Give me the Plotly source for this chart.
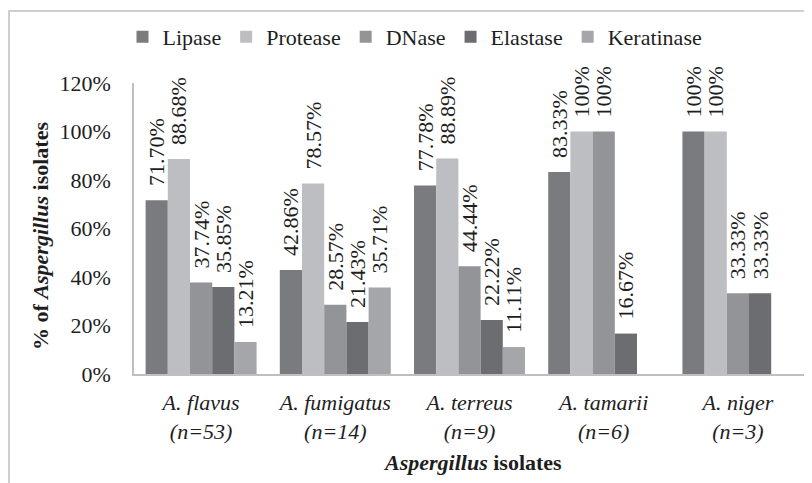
import plotly.graph_objects as go

categories = ["<i>A. flavus<br>(n=53)</i>", "<i>A. fumigatus<br>(n=14)</i>", "<i>A. terreus<br>(n=9)</i>",
              "<i>A. tamarii<br>(n=6)</i>", "<i>A. niger<br>(n=3)</i>"]
series_names = ["Lipase", "Protease", "DNase", "Elastase", "Keratinase"]
lipase = [0.7170, 0.4286, 0.7778, 0.8333, 1.0]
protease = [0.8868, 0.7857, 0.8889, 1.0, 1.0]
dnase = [0.3774, 0.2857, 0.4444, 1.0, 0.3333]
elastase = [0.3585, 0.2143, 0.2222, 0.1667, 0.3333]
keratinase = [0.1321, 0.3571, 0.1111, 0.0, 0.0]
y_ticks = [0, 0.2, 0.4, 0.6, 0.8, 1.0, 1.2]
y_ticklabels = ["0%", "20%", "40%", "60%", "80%", "100%", "120%"]

colors = ["#7a7b7f", "#bdbec2", "#939497", "#6c6d71", "#a5a6a9"]
values = [lipase, protease, dnase, elastase, keratinase]
FONT = "Liberation Serif, Tinos, Times New Roman, serif"
TXT = "#1e1e1e"
FS = 22


def fmt(v):
    if v == 0:
        return ""
    if abs(v - 1.0) < 1e-9:
        return "\u00a0\u00a0100%"
    return f"\u00a0\u00a0{v*100:.2f}%"


fig = go.Figure()
for name, vals, col in zip(series_names, values, colors):
    fig.add_trace(go.Bar(
        name=name, x=categories, y=vals, marker=dict(color=col, line=dict(width=0)),
        text=[fmt(v) for v in vals], textposition="outside", textangle=-90,
        textfont=dict(family=FONT, size=FS, color=TXT),
        constraintext="none", cliponaxis=False,
    ))

# page offset (body margin of the html page)
OFF = 8
W, H = 812 - OFF, 483 - OFF
plot_x0, plot_x1, plot_y0, plot_y1 = 134, 805, 83, 374  # page coordinates
L = plot_x0 - OFF
R = 812 - plot_x1
T = plot_y0 - OFF
B = 483 - plot_y1
pw = plot_x1 - plot_x0
ph = plot_y1 - plot_y0


def px(xp):
    return (xp - plot_x0) / pw


def py(yp):
    return (plot_y1 - yp) / ph


fig.update_layout(
    width=W, height=H, barmode="group", bargap=0.173, bargroupgap=0,
    margin=dict(l=L, r=R, t=T, b=B, pad=0, autoexpand=False),
    paper_bgcolor="white", plot_bgcolor="white",
    font=dict(family=FONT, size=FS, color=TXT),
    showlegend=True,
    legend=dict(orientation="h", x=px(415), xanchor="center", y=py(37), yanchor="middle",
                font=dict(family=FONT, size=FS, color=TXT), itemwidth=30, tracegroupgap=0,
                bgcolor="rgba(0,0,0,0)"),
    xaxis=dict(showline=True, linecolor="#bfbfbf", linewidth=1.5, ticks="", showgrid=False,
               tickfont=dict(family=FONT, size=FS, color=TXT), ticklabelstandoff=8),
    yaxis=dict(range=[0, 1.2], tickvals=y_ticks, ticktext=y_ticklabels, showline=True, linecolor="#bfbfbf",
               linewidth=1.5, ticks="", showgrid=False, zeroline=False,
               tickfont=dict(family=FONT, size=FS, color=TXT), ticklabelstandoff=17),
)

fig.add_annotation(text="<b>% of <i>Aspergillus</i> isolates</b>", xref="paper", yref="paper",
                   x=px(40), y=py(236), textangle=-90, showarrow=False,
                   font=dict(family=FONT, size=FS, color=TXT), xanchor="center", yanchor="middle")
fig.add_annotation(text="<b><i>Aspergillus</i> isolates</b>", xref="paper", yref="paper",
                   x=px(472), y=py(462), showarrow=False,
                   font=dict(family=FONT, size=FS, color=TXT), xanchor="center", yanchor="middle")

fig.add_shape(type="rect", xref="paper", yref="paper",
              x0=px(9), x1=px(840), y0=py(520), y1=py(11),
              line=dict(color="#c0c0c0", width=1.5), fillcolor="rgba(0,0,0,0)", layer="below")

fig.write_html("out.html")
